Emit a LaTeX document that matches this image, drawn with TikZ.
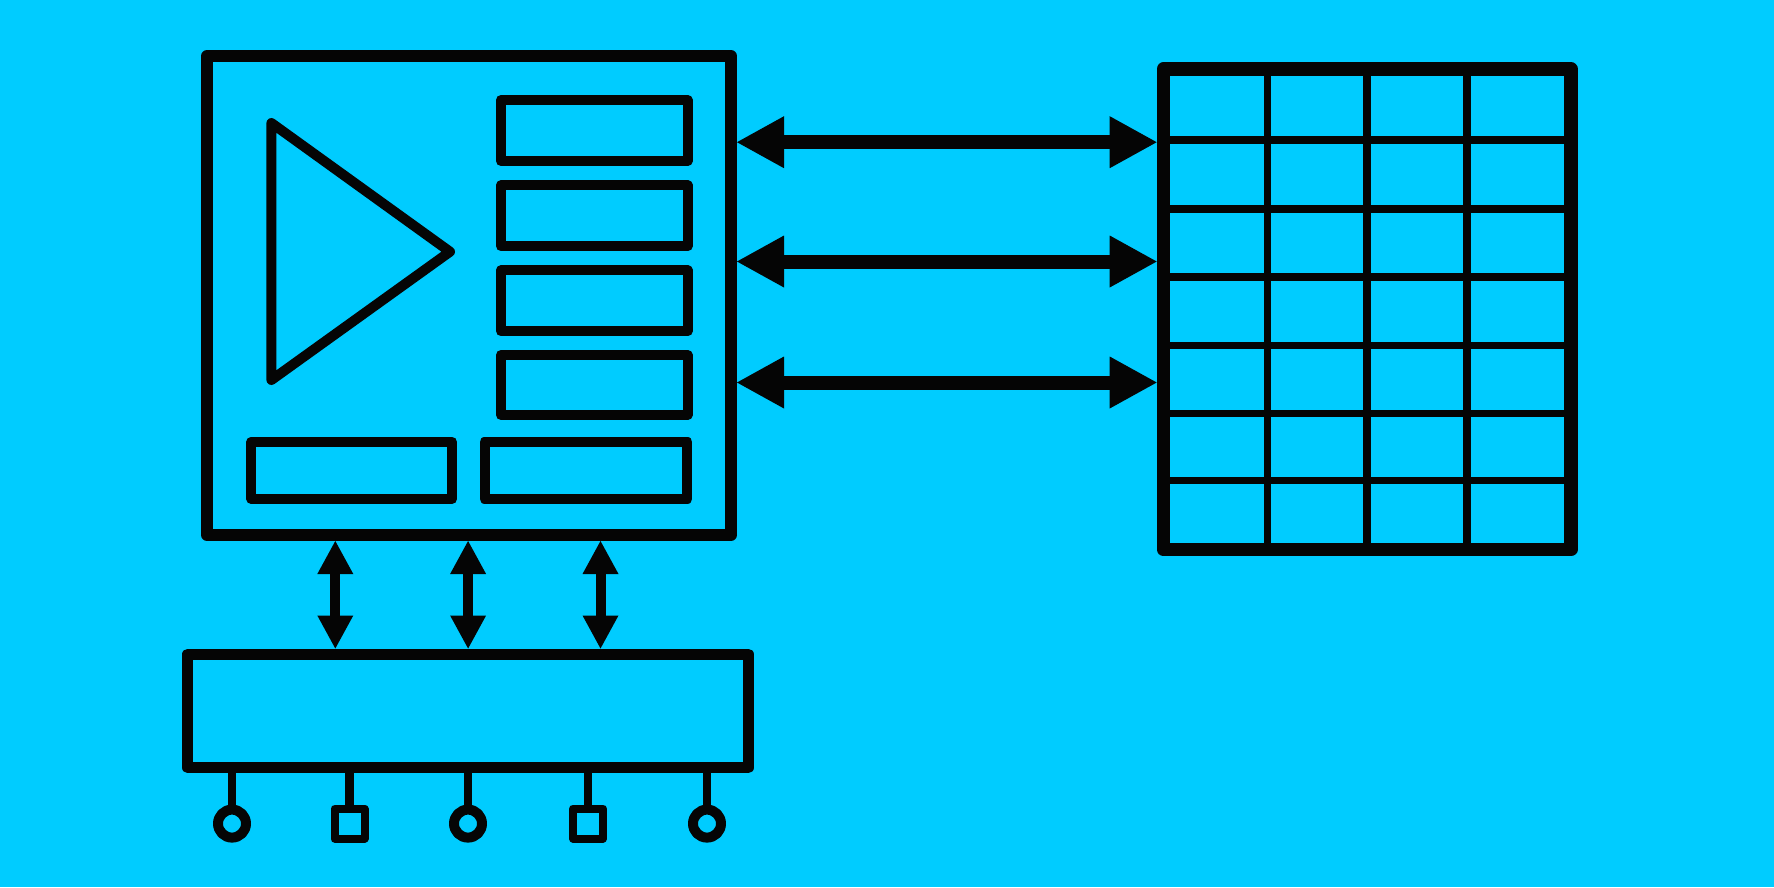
\documentclass[tikz,border=0pt]{standalone}
\usetikzlibrary{arrows.meta}
\definecolor{bgc}{RGB}{0,204,255}
\definecolor{ink}{RGB}{5,5,5}
\begin{document}
\begin{tikzpicture}[x=1pt,y=-1pt,line join=round,
  bigbox/.style={draw=ink,rectangle,inner sep=0pt,line width=12pt},
  gridbox/.style={draw=ink,rectangle,inner sep=0pt,line width=13.5pt},
  smallbox/.style={draw=ink,rectangle,inner sep=0pt,line width=10pt},
  busbox/.style={draw=ink,rectangle,inner sep=0pt,line width=11pt},
  gline/.style={draw=ink,line width=7.5pt},
  termc/.style={draw=ink,circle,inner sep=0pt,minimum size=28pt,line width=10pt},
  terms/.style={draw=ink,rectangle,inner sep=0pt,minimum size=30pt,line width=8pt},
  stub/.style={draw=ink,line width=8.5pt},
  harrow/.style={draw=ink,line width=14pt,
    {Triangle[length=47pt,width=52pt,line width=0pt]}-{Triangle[length=47pt,width=52pt,line width=0pt]}},
  varrow/.style={draw=ink,line width=10pt,
    {Triangle[length=33pt,width=36pt,line width=0pt]}-{Triangle[length=33pt,width=36pt,line width=0pt]}}
]
\useasboundingbox (0,0) rectangle (1774,887);
\fill[bgc] (0,0) rectangle (1774,887);

% main block
\node[bigbox,minimum width=524pt,minimum height=479pt] (main) at (469,295.5) {};
\draw[ink,line width=10pt] (271.4,123) -- (450,251.7) -- (271.4,380) -- cycle;
\node[smallbox,minimum width=186.5pt,minimum height=61pt] (s1) at (594.25,130.5) {};
\node[smallbox,minimum width=186.5pt,minimum height=61pt] (s2) at (594.25,215.8) {};
\node[smallbox,minimum width=186.5pt,minimum height=61pt] (s3) at (594.25,300.8) {};
\node[smallbox,minimum width=186.5pt,minimum height=60pt] (s4) at (594.25,385) {};
\node[smallbox,minimum width=200.6pt,minimum height=57.3pt] (b1) at (351.7,470.35) {};
\node[smallbox,minimum width=202.9pt,minimum height=57.3pt] (b2) at (586,470.35) {};

% grid
\node[gridbox,minimum width=407.5pt,minimum height=480.5pt] (grid) at (1367.2,309.25) {};
\foreach \gx in {1267.3,1367.2,1467.2}
  \draw[gline] (\gx,69) -- (\gx,549.5);
\foreach \gy in {140,208.8,277,345.3,413.7,480.3}
  \draw[gline] (1163.5,\gy) -- (1571,\gy);

% horizontal connectors
\coordinate (r1) at (0,142.2);
\coordinate (r2) at (0,261.5);
\coordinate (r3) at (0,382.5);
\draw[harrow] (main.east |- r1) -- (grid.west |- r1);
\draw[harrow] (main.east |- r2) -- (grid.west |- r2);
\draw[harrow] (main.east |- r3) -- (grid.west |- r3);

% bus
\node[busbox,minimum width=560.5pt,minimum height=113.8pt] (bus) at (468,710.9) {};
\coordinate (v1) at (335.3,0);
\coordinate (v2) at (468.1,0);
\coordinate (v3) at (600.5,0);
\draw[varrow] (main.south -| v1) -- (bus.north -| v1);
\draw[varrow] (main.south -| v2) -- (bus.north -| v2);
\draw[varrow] (main.south -| v3) -- (bus.north -| v3);

% terminals
\node[termc] (t1) at (232,823.6) {};
\node[terms] (t2) at (349.5,823.6) {};
\node[termc] (t3) at (468,823.6) {};
\node[terms] (t4) at (588,823.6) {};
\node[termc] (t5) at (707,823.6) {};
\foreach \t in {t1,t2,t3,t4,t5}
  \draw[stub] (bus.south -| \t) -- (\t.north);
\end{tikzpicture}
\end{document}
